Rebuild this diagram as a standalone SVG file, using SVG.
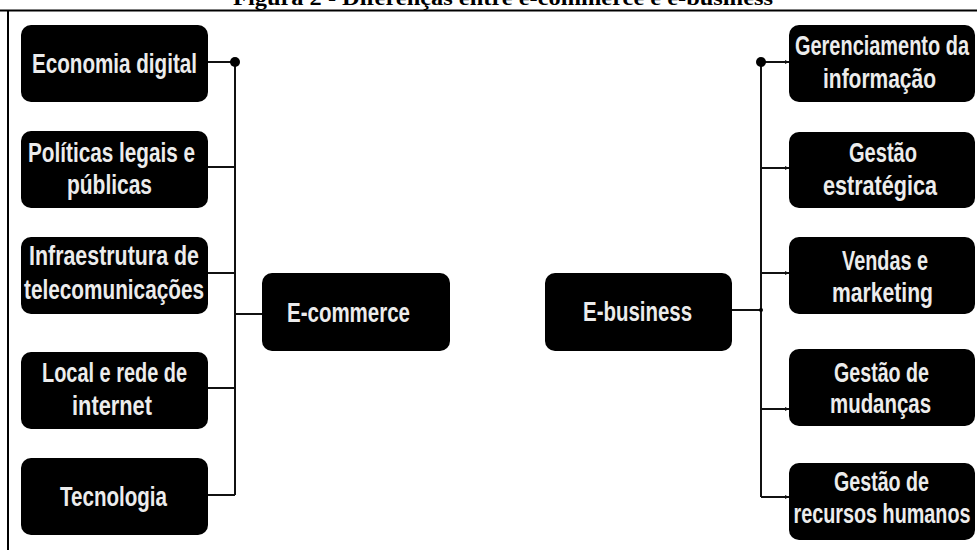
<svg xmlns="http://www.w3.org/2000/svg" width="978" height="550" viewBox="0 0 978 550">
  <defs>
    <style>
      .box { fill: #000; }
      .lbl { font-family: "Liberation Sans Narrow", "Liberation Sans", Arial, sans-serif; font-weight: bold; font-size: 27px; fill: #ececec; text-anchor: middle; }
      .wire { stroke: #111; stroke-width: 2; fill: none; }
      .title { font-family: "Liberation Serif", "Times New Roman", serif; font-weight: bold; font-size: 20px; fill: #000; text-anchor: middle; }
    </style>
    <marker id="tip" viewBox="0 0 6 6" refX="6" refY="3" markerWidth="4" markerHeight="4" orient="auto" markerUnits="userSpaceOnUse">
      <path d="M0,0 L6,3 L0,6 z" fill="#111"/>
    </marker>
  </defs>

  <rect width="978" height="550" fill="#fff"/>

  <!-- caption and frame -->
  <text class="title" x="503" y="5" textLength="540" lengthAdjust="spacingAndGlyphs">Figura 2 - Diferenças entre e-commerce e e-business</text>
  <line x1="0" y1="10.5" x2="977" y2="10.5" stroke="#000" stroke-width="2"/>
  <line x1="8" y1="10" x2="8" y2="550" stroke="#000" stroke-width="2"/>

  <!-- connectors -->
  <g id="connectors">
    <path class="wire" d="M235,62 V495"/>
    <path class="wire" d="M208,62 H235 M208,167 H235 M208,273 H235 M208,388 H235 M208,495 H235"/>
    <path class="wire" d="M235,314 H262"/>
    <circle cx="235" cy="62" r="5" fill="#000"/>

    <path class="wire" d="M761,62 V497"/>
    <path class="wire" d="M732,310 H761"/>
    <path class="wire" marker-end="url(#tip)" d="M761,62 H789"/>
    <path class="wire" marker-end="url(#tip)" d="M761,168 H789"/>
    <path class="wire" marker-end="url(#tip)" d="M761,273 H789"/>
    <path class="wire" marker-end="url(#tip)" d="M761,409 H789"/>
    <path class="wire" marker-end="url(#tip)" d="M761,497 H789"/>
    <circle cx="761" cy="62" r="5" fill="#000"/>
    <circle cx="761" cy="310" r="2" fill="#000"/>
  </g>

  <!-- e-commerce side -->
  <g id="economia-digital">
    <rect class="box" x="21" y="25" width="187" height="77" rx="10"/>
    <text class="lbl" x="114.5" y="73" textLength="165" lengthAdjust="spacingAndGlyphs">Economia digital</text>
  </g>
  <g id="politicas">
    <rect class="box" x="21" y="131" width="187" height="77" rx="10"/>
    <text class="lbl" x="111.5" y="162" textLength="167" lengthAdjust="spacingAndGlyphs">Políticas legais e</text>
    <text class="lbl" x="109.5" y="194" textLength="85" lengthAdjust="spacingAndGlyphs">públicas</text>
  </g>
  <g id="infraestrutura">
    <rect class="box" x="21" y="237" width="187" height="77" rx="10"/>
    <text class="lbl" x="114" y="265" textLength="170" lengthAdjust="spacingAndGlyphs">Infraestrutura de</text>
    <text class="lbl" x="114" y="299" textLength="180" lengthAdjust="spacingAndGlyphs">telecomunicações</text>
  </g>
  <g id="local-rede">
    <rect class="box" x="21" y="352" width="187" height="77" rx="10"/>
    <text class="lbl" x="114.5" y="382" textLength="145" lengthAdjust="spacingAndGlyphs">Local e rede de</text>
    <text class="lbl" x="112" y="415" textLength="80" lengthAdjust="spacingAndGlyphs">internet</text>
  </g>
  <g id="tecnologia">
    <rect class="box" x="21" y="458" width="187" height="77" rx="10"/>
    <text class="lbl" x="113.5" y="506" textLength="107" lengthAdjust="spacingAndGlyphs">Tecnologia</text>
  </g>
  <g id="e-commerce">
    <rect class="box" x="262" y="273" width="188" height="78" rx="10"/>
    <text class="lbl" x="348.5" y="322" textLength="123" lengthAdjust="spacingAndGlyphs">E-commerce</text>
  </g>

  <!-- e-business side -->
  <g id="e-business">
    <rect class="box" x="545" y="273" width="187" height="78" rx="10"/>
    <text class="lbl" x="637.5" y="321" textLength="109" lengthAdjust="spacingAndGlyphs">E-business</text>
  </g>
  <g id="gerenciamento">
    <rect class="box" x="789" y="25" width="186" height="77" rx="10"/>
    <text class="lbl" x="882" y="55" textLength="174" lengthAdjust="spacingAndGlyphs">Gerenciamento da</text>
    <text class="lbl" x="879.5" y="88" textLength="113" lengthAdjust="spacingAndGlyphs">informação</text>
  </g>
  <g id="gestao-estrategica">
    <rect class="box" x="789" y="132" width="186" height="76" rx="10"/>
    <text class="lbl" x="883" y="162" textLength="68" lengthAdjust="spacingAndGlyphs">Gestão</text>
    <text class="lbl" x="880" y="195" textLength="114" lengthAdjust="spacingAndGlyphs">estratégica</text>
  </g>
  <g id="vendas-marketing">
    <rect class="box" x="789" y="237" width="186" height="77" rx="10"/>
    <text class="lbl" x="885" y="270" textLength="86" lengthAdjust="spacingAndGlyphs">Vendas e</text>
    <text class="lbl" x="882.5" y="302" textLength="101" lengthAdjust="spacingAndGlyphs">marketing</text>
  </g>
  <g id="gestao-mudancas">
    <rect class="box" x="789" y="349" width="186" height="77" rx="10"/>
    <text class="lbl" x="881.5" y="382" textLength="95" lengthAdjust="spacingAndGlyphs">Gestão de</text>
    <text class="lbl" x="880.5" y="413" textLength="101" lengthAdjust="spacingAndGlyphs">mudanças</text>
  </g>
  <g id="gestao-recursos">
    <rect class="box" x="789" y="463" width="186" height="77" rx="10"/>
    <text class="lbl" x="881.5" y="491" textLength="95" lengthAdjust="spacingAndGlyphs">Gestão de</text>
    <text class="lbl" x="882" y="523" textLength="177" lengthAdjust="spacingAndGlyphs">recursos humanos</text>
  </g>
</svg>
